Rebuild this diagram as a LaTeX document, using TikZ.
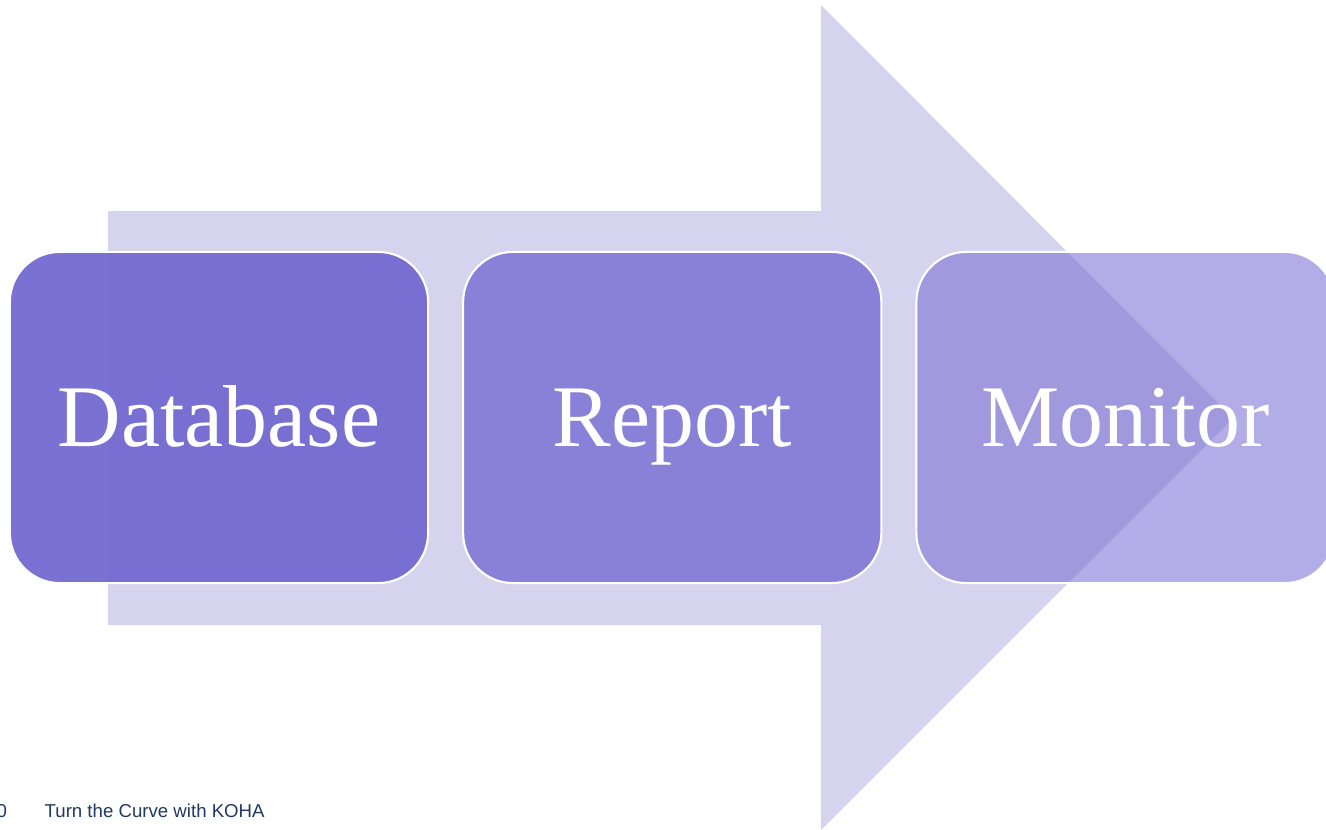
\documentclass[tikz,border=0pt]{standalone}
\usepackage{fontspec}
\setmainfont{Liberation Serif}
\newfontfamily\footfont{Liberation Sans}
\usetikzlibrary{positioning}
\definecolor{arrowc}{RGB}{214,211,239}
\definecolor{boxc}{RGB}{118,108,210}
\definecolor{footc}{RGB}{31,56,100}
\tikzset{
  stagebox/.style={draw=white,line width=0.6pt,rounded corners=0.5cm,fill=boxc,
    text=white,text opacity=1,minimum width=4.18cm,minimum height=3.31cm,
    outer sep=0pt,text height=0.57cm,text depth=0cm,
    font=\fontsize{25}{30}\selectfont},
}
\begin{document}
\begin{tikzpicture}[x=0.01cm,y=-0.01cm]
		\useasboundingbox (0,0) rectangle (1326,830);
		\fill[arrowc](108,211)--(821,211)--(821,5)--(1233,418)--(821,830)--(821,625)--(108,625)--cycle;
		\node[stagebox,fill opacity=0.97](db) at (219,417.5){Database};
		\node[stagebox,fill opacity=0.8,right=0.35cm of db](rep){Report};
		\node[stagebox,fill opacity=0.56,right=0.35cm of rep](mon){Monitor};
		\node[anchor=base west,inner sep=0,text=footc,font=\footfont\fontsize{5.3}{6}\selectfont](num) at (-4,817){0};
		\node[anchor=base west,inner sep=0,text=footc,font=\footfont\fontsize{5.3}{6}\selectfont](foot) at (44,817){Turn the Curve with KOHA};
	    \end{tikzpicture}
\end{document}
